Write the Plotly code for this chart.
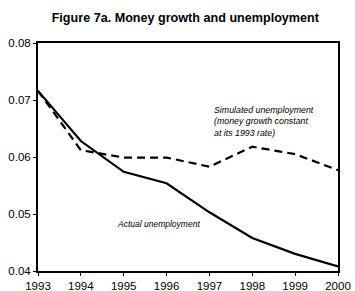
import plotly.graph_objects as go

years = [1993, 1994, 1995, 1996, 1997, 1998, 1999, 2000]
actual = [0.0716, 0.0628, 0.0574, 0.0554, 0.0503, 0.0458, 0.0430, 0.0408]
simulated = [0.0716, 0.0612, 0.0599, 0.0599, 0.0583, 0.0618, 0.0605, 0.0577]

fig = go.Figure()
fig.add_trace(go.Scatter(x=years, y=actual, mode="lines",
                         line=dict(color="black", width=2.2)))
fig.add_trace(go.Scatter(x=years, y=simulated, mode="lines",
                         line=dict(color="black", width=2.2, dash="8px,5px")))

fig.update_layout(
    width=355, height=291,
    margin=dict(l=38, r=17, t=43, b=20),
    paper_bgcolor="white", plot_bgcolor="white",
    showlegend=False,
    font=dict(family="Liberation Sans, Arial", color="black", size=11),
    title=dict(text="<b>Figure 7a. Money growth and unemployment</b>",
               x=0.522, xanchor="center", y=0.94, yanchor="middle",
               font=dict(size=12.6)),
    xaxis=dict(range=[1993, 2000], tickvals=years, showgrid=False,
               showline=True, linecolor="black", linewidth=2, mirror=True,
               ticks="outside", ticklen=3, tickcolor="black", zeroline=False,
               automargin=False, tickfont=dict(size=11.5)),
    yaxis=dict(range=[0.04, 0.08], tickvals=[0.04, 0.05, 0.06, 0.07, 0.08],
               tickformat=".2f", showgrid=False,
               showline=True, linecolor="black", linewidth=2, mirror=True,
               ticks="outside", ticklen=3, tickcolor="black", zeroline=False,
               automargin=False, tickfont=dict(size=11.5)),
)

fig.add_annotation(x=1997.05, y=0.0662, xanchor="left", yanchor="middle",
                   text="<i>Simulated unemployment<br>(money growth constant<br>at its 1993 rate)</i>",
                   showarrow=False, align="left", font=dict(size=8.8))
fig.add_annotation(x=1994.79, y=0.0482, xanchor="left", yanchor="middle",
                   text="<i>Actual unemployment</i>",
                   showarrow=False, align="left", font=dict(size=8.5))

fig.write_html("out.html", config={"displayModeBar": False},
               post_script="document.body.style.margin='0';document.body.style.overflow='hidden';")
